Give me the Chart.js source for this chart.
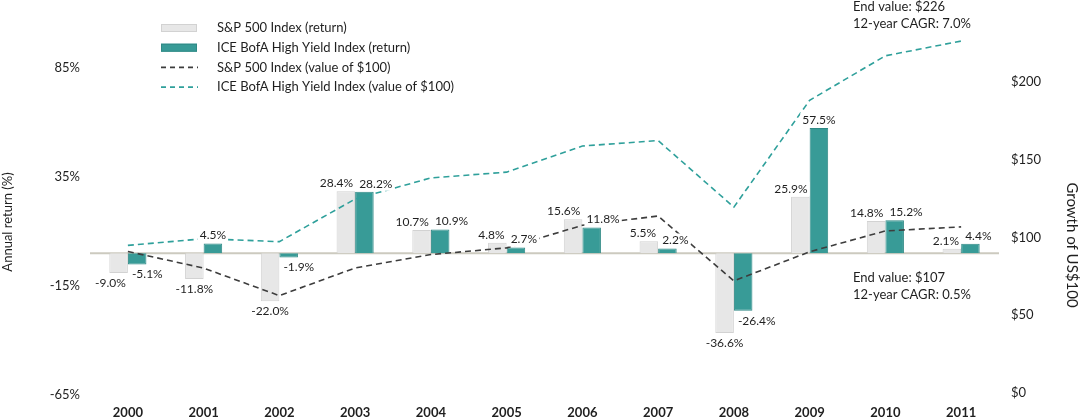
<!DOCTYPE html>
<html>
<head>
<meta charset="utf-8">
<title>S&amp;P 500 vs ICE BofA High Yield</title>
<script src="https://cdn.jsdelivr.net/npm/chart.js@4/dist/chart.umd.min.js"></script>
<style>
  html, body { margin: 0; padding: 0; background: #fff; }
  #wrap { width: 1080px; height: 420px; position: relative; }
</style>
</head>
<body>
<div id="wrap"><canvas id="chart"></canvas></div>
<script>
'use strict';

// ------------------------------- Data ------------------------------//
const years = ['2000', '2001', '2002', '2003', '2004', '2005', '2006', '2007', '2008', '2009', '2010', '2011'];
const spReturns = [-9.0, -11.8, -22.0, 28.4, 10.7, 4.8, 15.6, 5.5, -36.6, 25.9, 14.8, 2.1];
const hyReturns = [-5.1, 4.5, -1.9, 28.2, 10.9, 2.7, 11.8, 2.2, -26.4, 57.5, 15.2, 4.4];
const spGrowth = [91.0, 80.3, 62.6, 80.4, 89.0, 93.3, 107.8, 113.8, 72.1, 90.8, 104.2, 106.8];
const hyGrowth = [94.9, 99.2, 97.3, 124.7, 138.3, 142.0, 158.8, 162.3, 119.5, 188.2, 216.8, 226.3];
const returnTicks = [-65, -15, 35, 85];
const growthTicks = [0, 50, 100, 150, 200];
const seriesNames = [
  'S&P 500 Index (return)',
  'ICE BofA High Yield Index (return)',
  'S&P 500 Index (value of $100)',
  'ICE BofA High Yield Index (value of $100)'
];
const hyNote = ['End value: $226', '12-year CAGR: 7.0%'];
const spNote = ['End value: $107', '12-year CAGR: 0.5%'];
const leftTitle = 'Annual return (%)';
const rightTitle = 'Growth of US$100';

// ------------------------------- Colours ------------------------------//
const textColor = '#1f1f1f';
const spBarColor = '#e7e7e7';
const spBarBorder = '#d2d2d2';
const hyBarColor = '#389b97';
const hyBarBorder = '#2f8985';
const spLineColor = '#3d3d3d';
const hyLineColor = '#2fa09b';
const fontFamily = 'Lato, "Open Sans", sans-serif';

Chart.defaults.font.family = fontFamily;
Chart.defaults.color = textColor;

// ------------------------------- Plugins ------------------------------//
const zeroLinePlugin = {
  id: 'zeroLine',
  beforeDatasetsDraw(chart) {
    const ctx = chart.ctx;
    const y = chart.scales.yReturn.getPixelForValue(0);
    ctx.save();
    ctx.strokeStyle = '#cccabf';
    ctx.lineWidth = 2;
    ctx.beginPath();
    ctx.moveTo(chart.chartArea.left, y);
    ctx.lineTo(chart.chartArea.right, y);
    ctx.stroke();
    ctx.restore();
  }
};

function overlaps(a, b) {
  return a.x1 < b.x2 && a.x2 > b.x1 && a.y1 < b.y2 && a.y2 > b.y1;
}

function labelBox(bar, value, text, ctx) {
  const w = ctx.measureText(text).width;
  const y = value >= 0 ? bar.y - 8 : bar.y + 10;
  return { x1: bar.x - w / 2, x2: bar.x + w / 2, y1: y - 7, y2: y + 7, w: w, y: y };
}

function barBox(bar) {
  return {
    x1: bar.x - bar.width / 2, x2: bar.x + bar.width / 2,
    y1: Math.min(bar.y, bar.base), y2: Math.max(bar.y, bar.base)
  };
}

const barLabelPlugin = {
  id: 'barLabels',
  afterDatasetsDraw(chart) {
    const ctx = chart.ctx;
    const xScale = chart.scales.x;
    const spMeta = chart.getDatasetMeta(0);
    const hyMeta = chart.getDatasetMeta(1);
    ctx.save();
    ctx.font = '12px ' + fontFamily;
    ctx.textBaseline = 'middle';
    for (let i = 0; i < years.length; i++) {
      const cx = xScale.getPixelForValue(i);
      const spText = spReturns[i].toFixed(1) + '%';
      const hyText = hyReturns[i].toFixed(1) + '%';
      const spBox = labelBox(spMeta.data[i], spReturns[i], spText, ctx);
      const hyBox = labelBox(hyMeta.data[i], hyReturns[i], hyText, ctx);
      let spLeft = spBox.x1;
      let hyLeft = hyBox.x1;
      const clash = overlaps(spBox, hyBox);
      if (clash || overlaps(spBox, barBox(hyMeta.data[i]))) {
        spLeft = cx - 2 - spBox.w;
      }
      if (clash || overlaps(hyBox, barBox(spMeta.data[i]))) {
        hyLeft = cx + 4;
      }
      [[spText, spLeft, spBox], [hyText, hyLeft, hyBox]].forEach(function (item) {
        ctx.fillStyle = '#ffffff';
        ctx.fillRect(item[1] - 2, item[2].y - 7, item[2].w + 4, 14);
        ctx.fillStyle = textColor;
        ctx.fillText(item[0], item[1], item[2].y);
      });
    }
    ctx.restore();
  }
};

const legendPlugin = {
  id: 'boxLegend',
  afterDraw(chart) {
    const ctx = chart.ctx;
    ctx.save();
    ctx.font = '13px ' + fontFamily;
    ctx.textBaseline = 'middle';
    chart.data.datasets.forEach(function (ds, i) {
      const y = 28 + i * 19.7;
      if (ds.type === 'line') {
        ctx.strokeStyle = ds.borderColor;
        ctx.lineWidth = 1.6;
        ctx.setLineDash([5, 4]);
        ctx.beginPath();
        ctx.moveTo(161, y);
        ctx.lineTo(198, y);
        ctx.stroke();
        ctx.setLineDash([]);
      } else {
        ctx.fillStyle = ds.backgroundColor;
        ctx.fillRect(161, y - 4, 36, 8);
        ctx.strokeStyle = ds.borderColor;
        ctx.lineWidth = 1;
        ctx.strokeRect(161.5, y - 3.5, 35, 7);
      }
      ctx.fillStyle = textColor;
      ctx.fillText(ds.label, 217, y);
    });
    ctx.restore();
  }
};

const textPlugin = {
  id: 'extraText',
  afterDraw(chart) {
    const ctx = chart.ctx;
    ctx.save();
    ctx.fillStyle = textColor;
    ctx.font = '13px ' + fontFamily;
    ctx.textBaseline = 'middle';
    ctx.textAlign = 'left';
    hyNote.forEach(function (line, i) { ctx.fillText(line, 853, 7 + i * 17); });
    spNote.forEach(function (line, i) { ctx.fillText(line, 853, 278 + i * 16.5); });

    ctx.textAlign = 'center';
    ctx.save();
    ctx.translate(8, 222);
    ctx.rotate(-Math.PI / 2);
    ctx.fillText(leftTitle, 0, 0);
    ctx.restore();

    ctx.font = '15px ' + fontFamily;
    ctx.save();
    ctx.translate(1072, 245);
    ctx.rotate(Math.PI / 2);
    ctx.fillText(rightTitle, 0, 0);
    ctx.restore();
    ctx.restore();
  }
};

// ------------------------------- Chart ------------------------------//
const ctx = document.getElementById('chart').getContext('2d');

new Chart(ctx, {
  type: 'bar',
  data: {
    labels: years,
    datasets: [{
      type: 'bar',
      label: seriesNames[0],
      data: spReturns,
      yAxisID: 'yReturn',
      backgroundColor: spBarColor,
      borderColor: spBarBorder,
      borderWidth: 1,
      categoryPercentage: 0.49,
      barPercentage: 1.0,
      order: 1
    }, {
      type: 'bar',
      label: seriesNames[1],
      data: hyReturns,
      yAxisID: 'yReturn',
      backgroundColor: hyBarColor,
      borderColor: hyBarBorder,
      borderWidth: 1,
      categoryPercentage: 0.49,
      barPercentage: 1.0,
      order: 1
    }, {
      type: 'line',
      label: seriesNames[2],
      data: spGrowth,
      yAxisID: 'yGrowth',
      borderColor: spLineColor,
      borderWidth: 1.6,
      borderDash: [6, 4],
      pointRadius: 0,
      tension: 0,
      fill: false,
      order: 0
    }, {
      type: 'line',
      label: seriesNames[3],
      data: hyGrowth,
      yAxisID: 'yGrowth',
      borderColor: hyLineColor,
      borderWidth: 1.6,
      borderDash: [6, 4],
      pointRadius: 0,
      tension: 0,
      fill: false,
      order: 0
    }]
  },
  options: {
    responsive: true,
    maintainAspectRatio: false,
    animation: false,
    layout: { padding: { top: 30, left: 0, right: 0, bottom: 0 } },
    plugins: {
      legend: { display: false },
      tooltip: { enabled: false }
    },
    scales: {
      x: {
        grid: { display: false, drawTicks: false },
        border: { display: false },
        ticks: { padding: 10, font: { size: 13, weight: 'bold' }, color: textColor },
        afterFit(scale) { scale.height = 25; }
      },
      yReturn: {
        position: 'left',
        min: -65,
        max: 102.4,
        grid: { display: false, drawTicks: false },
        border: { display: false },
        afterBuildTicks(scale) { scale.ticks = returnTicks.map(v => ({ value: v })); },
        ticks: { padding: 10, font: { size: 13 }, color: textColor, callback: v => v + '%' },
        afterFit(scale) { scale.width = 90; }
      },
      yGrowth: {
        position: 'right',
        min: -1.3,
        max: 233.4,
        grid: { display: false, drawTicks: false },
        border: { display: false },
        afterBuildTicks(scale) { scale.ticks = growthTicks.map(v => ({ value: v })); },
        ticks: { padding: 12, font: { size: 13 }, color: textColor, callback: v => '$' + v },
        afterFit(scale) { scale.width = 81; }
      }
    }
  },
  plugins: [zeroLinePlugin, barLabelPlugin, legendPlugin, textPlugin]
});
</script>
</body>
</html>
